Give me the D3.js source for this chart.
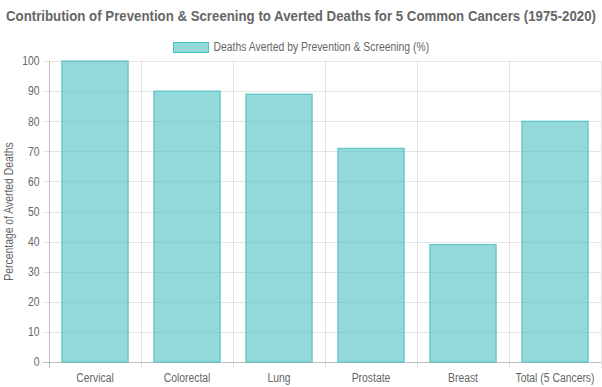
<!DOCTYPE html>
<html>
<head>
<meta charset="utf-8">
<script src="https://cdn.jsdelivr.net/npm/d3@7/dist/d3.min.js"></script>
<style>
  body { margin: 0; background: #fff; }
  svg text { font-family: "Liberation Sans", Arial, Helvetica, sans-serif; fill: #666; }
</style>
</head>
<body>
<div id="chart"></div>
<script>
// data
var categories = ["Cervical", "Colorectal", "Lung", "Prostate", "Breast", "Total (5 Cancers)"];
var averted = [100, 90, 89, 71, 39, 80];
var yTicks = [0, 10, 20, 30, 40, 50, 60, 70, 80, 90, 100];
var seriesName = "Deaths Averted by Prevention & Screening (%)";
var chartTitle = "Contribution of Prevention & Screening to Averted Deaths for 5 Common Cancers (1975-2020)";
var yTitle = "Percentage of Averted Deaths";

var W = 602, H = 387;
var margin = { top: 61, right: 1, bottom: 25, left: 49 };
var width = W - margin.left - margin.right,
    height = H - margin.top - margin.bottom;

// the reference font runs a bit narrower than Liberation Sans
function squeeze(sel, k) {
  sel.each(function () {
    var len = this.getComputedTextLength();
    d3.select(this)
      .attr("textLength", len * k)
      .attr("lengthAdjust", "spacingAndGlyphs");
  });
}

var svg = d3.select("#chart")
  .append("svg")
  .attr("width", W)
  .attr("height", H);

// title
svg.append("text")
  .attr("x", W / 2)
  .attr("y", 21)
  .attr("text-anchor", "middle")
  .attr("textLength", 590)
  .attr("lengthAdjust", "spacingAndGlyphs")
  .style("font-size", "14.5px")
  .style("font-weight", "bold")
  .text(chartTitle);

// legend
var legend = svg.append("g");
legend.append("rect")
  .attr("x", 173.5).attr("y", 42.5)
  .attr("width", 35).attr("height", 10)
  .attr("fill", "rgba(75,192,192,0.6)")
  .attr("stroke", "rgb(75,192,192)")
  .attr("stroke-width", 1);
legend.append("text")
  .attr("x", 213.5)
  .attr("y", 50.5)
  .style("font-size", "12px")
  .text(seriesName)
  .call(squeeze, 0.865);

var g = svg.append("g")
  .attr("transform", "translate(" + margin.left + "," + margin.top + ")");

var x = d3.scaleBand()
  .domain(categories)
  .range([0, width]);

var y = d3.scaleLinear()
  .domain([0, 100])
  .range([height, 0]);

// horizontal grid + y ticks
g.selectAll(".hgrid")
  .data(yTicks)
  .enter()
  .append("line")
  .attr("x1", -6)
  .attr("x2", width)
  .attr("y1", function (d) { return Math.round(y(d)) + 0.5; })
  .attr("y2", function (d) { return Math.round(y(d)) + 0.5; })
  .attr("stroke", function (d) { return d === 0 ? "rgba(0,0,0,0.25)" : "rgba(0,0,0,0.1)"; });

// vertical grid at category boundaries
var bounds = categories.map(function (c) { return x(c); }).concat([width]);
g.selectAll(".vgrid")
  .data(bounds)
  .enter()
  .append("line")
  .attr("x1", function (d) { return Math.round(d) + 0.5; })
  .attr("x2", function (d) { return Math.round(d) + 0.5; })
  .attr("y1", 0)
  .attr("y2", height + 6)
  .attr("stroke", function (d, i) { return i === 0 ? "rgba(0,0,0,0.25)" : "rgba(0,0,0,0.1)"; });

// y axis labels
var yAxis = g.append("g")
  .call(d3.axisLeft(y).tickValues(yTicks).tickSize(0).tickPadding(9.5));
yAxis.select(".domain").remove();
yAxis.selectAll("text")
  .style("font-size", "12px")
  .attr("fill", null)
  .call(squeeze, 0.865);

// x axis labels
var xAxis = g.append("g")
  .attr("transform", "translate(0," + height + ")")
  .call(d3.axisBottom(x).tickSize(0).tickPadding(11.5));
xAxis.select(".domain").remove();
xAxis.selectAll("text")
  .style("font-size", "12px")
  .attr("fill", null)
  .call(squeeze, 0.865);

// y axis title
svg.append("text")
  .attr("transform", "translate(13," + (margin.top + height / 2) + ") rotate(-90)")
  .attr("text-anchor", "middle")
  .style("font-size", "12px")
  .text(yTitle)
  .call(squeeze, 0.865);

// bars
var bw = x.bandwidth() * 0.72;
g.selectAll(".bar")
  .data(averted)
  .enter()
  .append("rect")
  .attr("class", "bar")
  .attr("x", function (d, i) { return x(categories[i]) + (x.bandwidth() - bw) / 2; })
  .attr("width", bw)
  .attr("y", function (d) { return y(d); })
  .attr("height", function (d) { return height - y(d); })
  .attr("fill", "rgba(75,192,192,0.6)")
  .attr("stroke", "rgb(75,192,192)")
  .attr("stroke-width", 1);
</script>
</body>
</html>
